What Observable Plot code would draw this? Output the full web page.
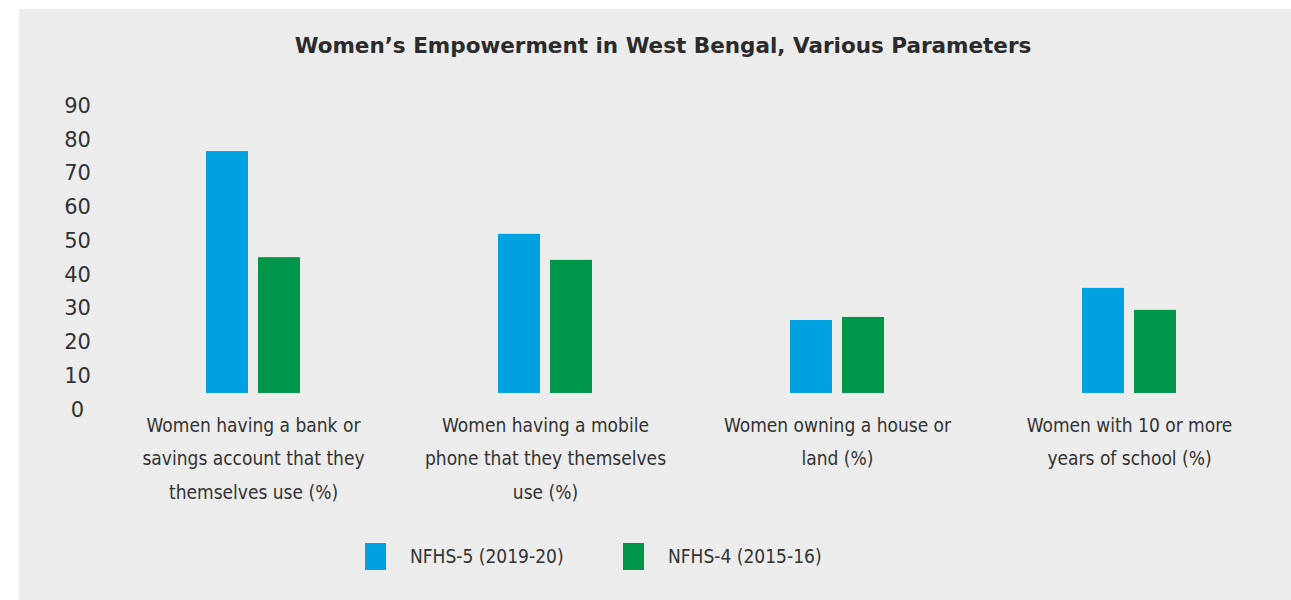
<!DOCTYPE html>
<html>
<head>
<meta charset="utf-8">
<script src="https://cdn.jsdelivr.net/npm/d3@7"></script>
<script src="https://cdn.jsdelivr.net/npm/@observablehq/plot@0.6"></script>
<style>
  html, body { margin: 0; padding: 0; background: #ffffff; width: 1291px; height: 600px; overflow: hidden; }
  #panel { position: absolute; left: 19px; top: 9px; width: 1272px; height: 591px; background: #ebeceb; }
  #title { position: absolute; left: 35px; width: 1256px; top: 33px; text-align: center;
           font-family: "DejaVu Sans", sans-serif; font-weight: bold; font-size: 21.5px; color: #2b2b2b; }
  #chart { position: absolute; left: 0; top: 70px; }
  .legend { position: absolute; top: 543px; height: 27px; font-family: "Liberation Sans Narrow", "DejaVu Sans Condensed", sans-serif;
            font-size: 19px; color: #333; }
  .legend .sw { position: absolute; left: 0; top: 0; width: 21px; height: 27px; }
  .legend .lb { position: absolute; left: 45px; top: 0; line-height: 27px; white-space: nowrap; }
</style>
</head>
<body>
<div id="panel"></div>
<div id="title">Women’s Empowerment in West Bengal, Various Parameters</div>
<div id="chart"></div>
<div id="legend"></div>
<script>
const categories = ["bank", "mobile", "house", "school"];
const categoryLabels = [
  "Women having a bank or\nsavings account that they\nthemselves use (%)",
  "Women having a mobile\nphone that they themselves\nuse (%)",
  "Women owning a house or\nland (%)",
  "Women with 10 or more\nyears of school (%)"
];
const seriesNames = ["NFHS-5 (2019-20)", "NFHS-4 (2015-16)"];
const nfhs5 = [76.5, 52.0, 26.5, 36.0];
const nfhs4 = [45.1, 44.3, 27.4, 29.5];
const yTicks = [0, 10, 20, 30, 40, 50, 60, 70, 80, 90];
const barBase = 4.9;
const colors = ["#00a1e0", "#00964a"];

const data = [];
categories.forEach((c, i) => {
  data.push({category: c, series: seriesNames[0], value: nfhs5[i]});
  data.push({category: c, series: seriesNames[1], value: nfhs4[i]});
});
const labelRows = categories.map((c, i) => ({category: c, label: categoryLabels[i]}));

const chart = Plot.plot({
  width: 1291,
  height: 470,
  marginLeft: 107,
  marginRight: 16,
  marginTop: 35.5,
  marginBottom: 130.5,
  style: {background: "transparent", fontFamily: "DejaVu Sans, sans-serif", color: "#333"},
  fx: {domain: categories, padding: 0, axis: null},
  x: {domain: seriesNames, paddingInner: 0.19, paddingOuter: 1.85, axis: null},
  y: {domain: [0, 90], ticks: yTicks, axis: null},
  color: {domain: seriesNames, range: colors},
  marks: [
    Plot.axisY({ticks: yTicks, label: null, tickSize: 0, tickPadding: 30, textAnchor: "middle", fontSize: 21, fill: "#333", tickFormat: d => String(d)}),
    Plot.barY(data, {fx: "category", x: "series", y1: barBase, y2: "value", fill: "series"}),
    Plot.text(labelRows, {fx: "category", text: "label", frameAnchor: "bottom", lineAnchor: "top", dy: -2,
      lineHeight: 1.76, fontSize: 19, fill: "#333", fontFamily: "Liberation Sans Narrow, DejaVu Sans Condensed, sans-serif"})
  ]
});
document.getElementById("chart").appendChild(chart);

const legend = document.getElementById("legend");
const legendX = [365, 623];
seriesNames.forEach((s, i) => {
  const item = document.createElement("div");
  item.className = "legend";
  item.style.left = legendX[i] + "px";
  item.innerHTML = `<div class="sw" style="background:${colors[i]}"></div><div class="lb">${s}</div>`;
  legend.appendChild(item);
});
</script>
</body>
</html>
